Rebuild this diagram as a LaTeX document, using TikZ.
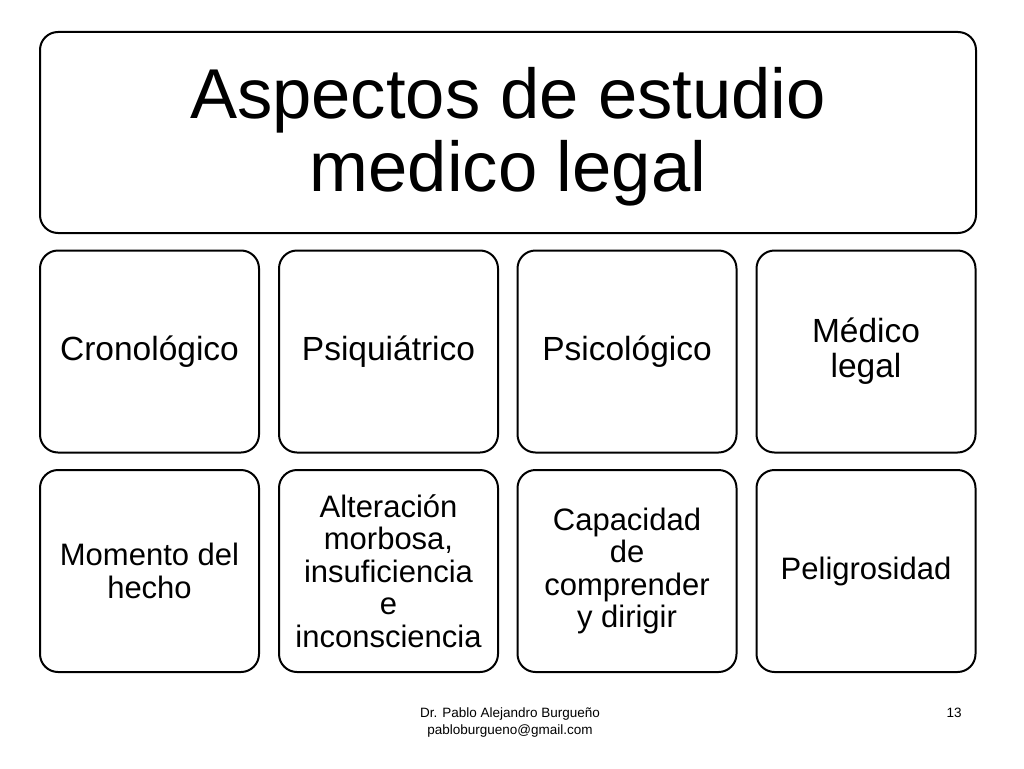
\documentclass[tikz,border=0pt]{standalone}
\usepackage{fontspec}
\setmainfont{Liberation Sans}
\begin{document}
\begin{tikzpicture}[x=1pt,y=-1pt,
  box/.style={draw=black,line width=2pt,rounded corners=18pt,fill=white,
    align=center,inner sep=0pt},
  cell/.style={box,minimum width=219pt,minimum height=202pt,
    font=\fontsize{31}{32.5}\selectfont},
  bigcell/.style={cell,font=\fontsize{33.5}{35}\selectfont},
  foot/.style={align=center,font=\fontsize{13.5}{17}\selectfont}]
\useasboundingbox (0,0) rectangle (1024,768);
\fill[white] (0,0) rectangle (1024,768);
\node[box,minimum width=936pt,minimum height=201pt] (title) at (508,132.5) {};
\node[align=center,font=\fontsize{70.6}{73}\selectfont] (titletext) at (508,136.5)
  {Aspectos de estudio\\medico legal};
% row 1
\node[bigcell] (r1a) at (149.5,351.5) {Cronológico};
\node[bigcell] (r1b) at (388.5,351.5) {Psiquiátrico};
\node[bigcell] (r1c) at (627,351.5) {Psicológico};
\node[bigcell] (r1d) at (866,351.5) {Médico\\legal};
% row 2
\node[cell] (r2a) at (149.5,571) {Momento del\\hecho};
\node[cell] (r2b) at (388.5,571) {Alteración\\morbosa,\\insuficiencia\\e\\inconsciencia};
\node[cell] (r2c) at (627,571) {Capacidad\\de\\comprender\\y dirigir};
\node[cell] (r2d) at (866,571) {Peligrosidad};
% footer
\node[foot] (author) at (510,722) {Dr. Pablo Alejandro Burgueño\\pabloburgueno@gmail.com};
\node[foot] (page) at (954,713) {13};
\end{tikzpicture}
\end{document}
